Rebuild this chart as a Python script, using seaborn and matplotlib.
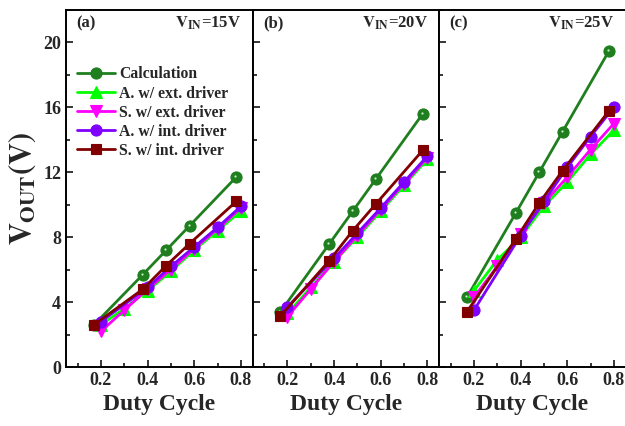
import matplotlib
matplotlib.use("Agg")
import matplotlib.pyplot as plt
import matplotlib.transforms as mtrans
from matplotlib.ticker import MultipleLocator
import seaborn as sns
import pandas as pd

# ---------------- data ----------------
panels = ["(a)", "(b)", "(c)"]
vin_labels = ["15V", "20V", "25V"]

d_calc = [0.17, 0.38, 0.48, 0.58, 0.78]
d_ext = [0.2, 0.3, 0.4, 0.5, 0.6, 0.7, 0.8]
d_int_a = [0.2, 0.4, 0.5, 0.6, 0.7, 0.8]
d_int_s = [0.17, 0.38, 0.48, 0.58, 0.78]

calc_15 = [2.6, 5.7, 7.2, 8.7, 11.7]
ext_a_15 = [2.6, 3.6, 4.7, 5.9, 7.2, 8.4, 9.6]
ext_s_15 = [2.2, 3.5, 4.8, 6.0, 7.3, 8.5, 9.8]
int_a_15 = [2.8, 4.9, 6.2, 7.4, 8.6, 9.9]
int_s_15 = [2.6, 4.8, 6.25, 7.6, 10.2]

calc_20 = [3.4, 7.6, 9.6, 11.6, 15.6]
ext_a_20 = [3.3, 4.9, 6.5, 8.0, 9.6, 11.2, 12.8]
ext_s_20 = [3.1, 4.8, 6.5, 8.1, 9.7, 11.3, 12.9]
int_a_20 = [3.7, 6.7, 8.25, 9.8, 11.4, 13.0]
int_s_20 = [3.15, 6.56, 8.4, 10.06, 13.35]

calc_25 = [4.3, 9.5, 12.0, 14.5, 19.5]
ext_a_25 = [4.7, 6.6, 8.0, 9.9, 11.4, 13.1, 14.6]
ext_s_25 = [4.3, 6.2, 8.2, 10.1, 11.7, 13.4, 15.0]
int_a_25 = [3.5, 8.1, 10.2, 12.3, 14.2, 16.0]
int_s_25 = [3.4, 7.9, 10.1, 12.1, 15.8]

series_names = ["Calculation", "A. w/ ext. driver", "S. w/ ext. driver",
                "A. w/ int. driver", "S. w/ int. driver"]
panel_data = [
    [calc_15, ext_a_15, ext_s_15, int_a_15, int_s_15],
    [calc_20, ext_a_20, ext_s_20, int_a_20, int_s_20],
    [calc_25, ext_a_25, ext_s_25, int_a_25, int_s_25],
]
x_data = [d_calc, d_ext, d_ext, d_int_a, d_int_s]

# ---------------- style ----------------
sns.set_theme(style="ticks")
plt.rcParams["font.family"] = ["Liberation Serif", "DejaVu Serif"]
plt.rcParams["font.weight"] = "bold"
plt.rcParams["mathtext.fontset"] = "stix"
plt.rcParams["axes.linewidth"] = 1.4

colors = ["#1f7f1f", "#00ff00", "#ff00ff", "#8000ff", "#800000"]
markers = ["o", "^", "v", "o", "s"]
msizes = [8, 8, 9, 8, 7]

fig = plt.figure(figsize=(6.25, 4.26), dpi=100)
left = 66 / 625
width = 186.5 / 625
bottom = (426 - 367) / 426
height = (367 - 10) / 426

legend_handles = None
for i in range(3):
    ax = fig.add_axes([left + i * width, bottom, width, height])
    handles = []
    for k in range(5):
        df = pd.DataFrame({"x": x_data[k], "y": panel_data[i][k]})
        sns.lineplot(data=df, x="x", y="y", ax=ax, color=colors[k],
                     marker=markers[k], markersize=msizes[k], lw=2.0,
                     markeredgecolor=colors[k], markeredgewidth=0.8,
                     sort=False, zorder=3 + k, legend=False)
        h = ax.lines[-1]
        if k == 0:
            off = mtrans.offset_copy(ax.transData, fig=fig, x=-1.0, y=1.0, units="dots")
            sns.scatterplot(data=df, x="x", y="y", ax=ax, color="#c8f0c8",
                            s=2.5, linewidth=0, transform=off, zorder=3.5, legend=False)
        handles.append(h)
    if i == 0:
        legend_handles = handles
    ax.set_xlim(0.05, 0.85)
    ax.set_ylim(0, 22)
    ax.xaxis.set_major_locator(MultipleLocator(0.2))
    ax.xaxis.set_minor_locator(MultipleLocator(0.1))
    ax.yaxis.set_major_locator(MultipleLocator(4))
    ax.yaxis.set_minor_locator(MultipleLocator(2))
    ax.set_xticks([0.2, 0.4, 0.6, 0.8])
    ax.set_xticklabels(["0.2", "0.4", "0.6", "0.8"])
    ax.tick_params(which="both", direction="in", top=False, right=False,
                   width=1.3, labelsize=13)
    ax.tick_params(which="major", length=5)
    ax.tick_params(which="minor", length=3)
    for lab in ax.get_xticklabels() + ax.get_yticklabels():
        lab.set_fontweight("bold")
    if i > 0:
        ax.set_yticklabels([])
        ax.set_ylabel("")
    else:
        ax.set_ylabel(r"$\mathbf{V_{OUT}(V)}$", fontsize=22, labelpad=4)
    ax.set_xlabel("Duty Cycle", fontsize=17, fontweight="bold", labelpad=4)
    ax.text(0.055, 0.962, panels[i], transform=ax.transAxes, fontsize=12,
            fontweight="bold", ha="left", va="center")
    ax.text(0.94, 0.962, r"$\mathbf{V_{IN}}$=" + vin_labels[i], transform=ax.transAxes,
            fontsize=12, fontweight="bold", ha="right", va="center")
    for s in ax.spines.values():
        s.set_linewidth(1.4)
        s.set_color("black")

ax0 = fig.axes[0]
ax0.legend(legend_handles, series_names, loc="upper left",
           bbox_to_anchor=(0.06, 0.842), frameon=False, borderaxespad=0,
           borderpad=0, handlelength=2.4, handletextpad=0.25, labelspacing=0.2,
           prop={"family": "Liberation Serif", "weight": "bold", "size": 11.3})

fig.savefig("out.png", dpi=100)
